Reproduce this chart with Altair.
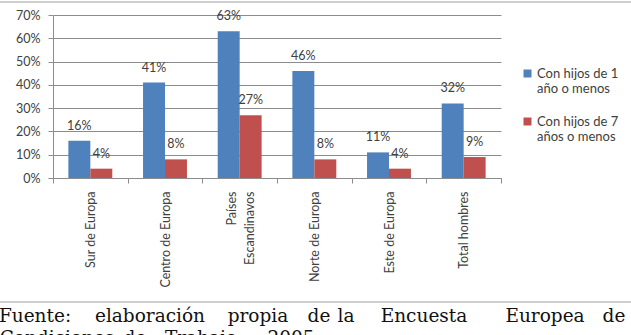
import altair as alt
import pandas as pd

# Regions (x categories) and the two series
regiones = ["Sur de Europa", "Centro de Europa", "Países Escandinavos",
            "Norte de Europa", "Este de Europa", "Total hombres"]
series = ["Con hijos de 1 año o menos", "Con hijos de 7 años o menos"]
hijos_1 = [16, 41, 63, 46, 11, 32]
hijos_7 = [4, 8, 27, 8, 4, 9]
y_ticks = [0, 10, 20, 30, 40, 50, 60, 70]

# Source note printed under the chart (two justified lines)
fuente_linea1 = ["Fuente:", "elaboración", "propia", "de", "la",
                 "Encuesta", "Europea", "de"]
fuente_linea2 = ["Condiciones", "de", "Trabajo", "2005"]

colores = ["#4F81BD", "#C0504D"]
texto = "#404040"
gris = "#8c8c8c"
fuente_sans = "Lato"

rows = []
for serie, valores in zip(series, [hijos_1, hijos_7]):
    for region, v in zip(regiones, valores):
        rows.append({"region": region, "serie": serie, "valor": v})
df = pd.DataFrame(rows)

W, H = 448, 163
PAD = {"left": 53, "top": 15, "right": 130, "bottom": 157}

x_enc = alt.X(
    "region:N", sort=regiones,
    scale=alt.Scale(paddingInner=0, paddingOuter=0),
    axis=alt.Axis(
        title=None, labelAngle=270, tickBand="extent", tickSize=5,
        tickColor=gris, domainColor=gris, labelColor=texto,
        labelFont=fuente_sans, labelFontSize=12.5, labelPadding=8,
        labelLineHeight=18,
        labelOffset={"condition": {"test": "datum.label == 'Países Escandinavos'",
                                   "value": -8}, "value": 0},
        labelExpr="datum.label == 'Países Escandinavos' ? "
                  "['Países\u00a0\u00a0\u00a0\u00a0\u00a0\u00a0\u00a0\u00a0', 'Escandinavos'] : datum.label",
    ),
)
xoff_enc = alt.XOffset("serie:N", sort=series,
                       scale=alt.Scale(paddingInner=0, paddingOuter=0.7))
y_enc = alt.Y(
    "valor:Q",
    scale=alt.Scale(domain=[0, 70], nice=False),
    axis=alt.Axis(
        title=None, values=y_ticks, labelExpr="datum.value + '%'",
        grid=True, gridColor=gris, domainColor=gris, tickColor=gris,
        tickSize=5, labelColor=texto, labelFont=fuente_sans,
        labelFontSize=12.5, labelPadding=8, labelOverlap=False,
    ),
)

base = alt.Chart(df).transform_calculate(etiqueta="datum.valor + '%'")

bars = base.mark_bar().encode(
    x=x_enc, xOffset=xoff_enc, y=y_enc,
    color=alt.Color(
        "serie:N", sort=series,
        scale=alt.Scale(domain=series, range=colores),
        legend=alt.Legend(
            title=None, orient="none", legendX=468, legendY=52,
            symbolType="square", symbolSize=64, symbolStrokeWidth=0,
            labelFont=fuente_sans, labelFontSize=13, labelColor=texto,
            labelOffset=3, rowPadding=19, padding=0,
            labelLimit=200,
            labelExpr="[slice(datum.label, 0, 14), slice(datum.label, 15)]",
        ),
    ),
)

labels = base.mark_text(
    dy=-15, baseline="middle", align="center",
    font=fuente_sans, fontSize=12.5, color=texto,
).encode(x=x_enc, xOffset=xoff_enc, y=y_enc, text="etiqueta:N")

dummy = pd.DataFrame({"t": [0]})

# Light frame lines above and below the chart
frame_top = alt.Chart(dummy).mark_rule(color="#cfcfcf", strokeWidth=2).encode(
    x=alt.value(-PAD["left"]), x2=alt.value(W + PAD["right"]), y=alt.value(-13))
frame_bottom = alt.Chart(dummy).mark_rule(color="#cfcfcf", strokeWidth=2).encode(
    x=alt.value(-PAD["left"]), x2=alt.value(W + PAD["right"]), y=alt.value(287))

# Source note, one word per text mark (word centres) so the lines stay justified
line1_cx = [35, 150, 258, 319, 346, 424, 545, 614]
line2_cx = [57, 135, 201, 291]
note_layers = []
for words, xs, y in [(fuente_linea1, line1_cx, 307), (fuente_linea2, line2_cx, 329)]:
    for w, px in zip(words, xs):
        note_layers.append(
            alt.Chart(pd.DataFrame({"t": [w]})).mark_text(
                align="center", baseline="alphabetic", font="DejaVu Serif",
                fontSize=18.5, color="#111111",
            ).encode(text="t:N", x=alt.value(px - PAD["left"]), y=alt.value(y))
        )

chart = alt.layer(frame_top, frame_bottom, bars, labels, *note_layers).properties(
    width=W, height=H, padding=PAD,
    autosize=alt.AutoSizeParams(type="none"),
    background="white",
).configure_view(stroke=None)

chart.save("out.html", embed_options={"renderer": "svg", "actions": False})
